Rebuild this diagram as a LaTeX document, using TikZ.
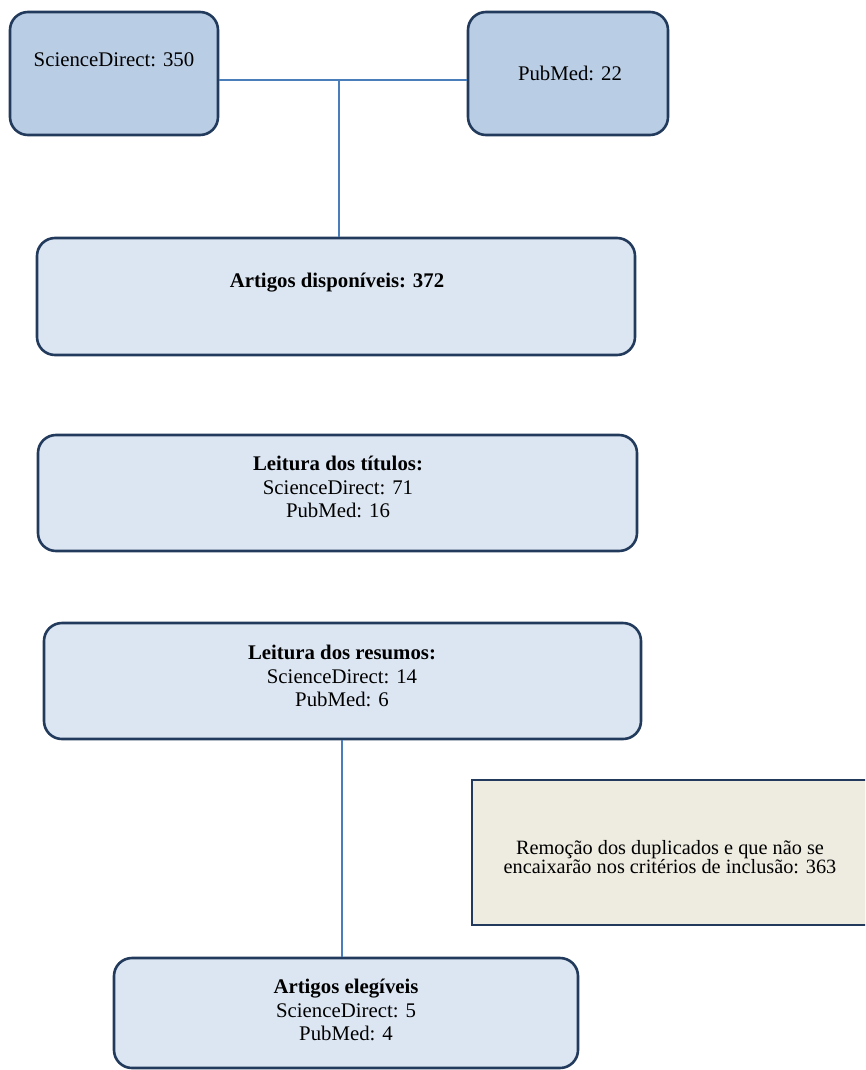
\documentclass[tikz,border=0pt]{standalone}
\usepackage{fontspec}
\setmainfont{Liberation Serif}
\definecolor{darkfill}{HTML}{B9CDE5}
\definecolor{lightfill}{HTML}{DCE6F2}
\definecolor{beigefill}{HTML}{EEECE1}
\definecolor{bordercol}{HTML}{223B5C}
\definecolor{conncol}{HTML}{4A7EBB}
\begin{document}
\begin{tikzpicture}[x=1pt,y=-1pt,
  box/.style={draw=bordercol, line width=2.6pt, rounded corners=18pt, inner sep=0pt},
  darkbox/.style={box, fill=darkfill},
  lightbox/.style={box, fill=lightfill},
  remobox/.style={draw=bordercol, line width=2.6pt, fill=beigefill, inner sep=0pt},
  txt/.style={align=center, inner sep=0pt, font=\fontsize{20.8}{23.5}\selectfont},
  remtxt/.style={align=center, inner sep=0pt, font=\fontsize{20.3}{19.5}\selectfont},
  conn/.style={draw=conncol, line width=1.4pt}]
\useasboundingbox (0,0) rectangle (865,1070);
\clip (0,0) rectangle (865,1070);

% boxes
\node[darkbox, minimum width=208pt, minimum height=123pt] (sd) at (114,73.5) {};
\node[darkbox, minimum width=200pt, minimum height=123pt] (pm) at (568,73.5) {};
\node[lightbox, minimum width=598pt, minimum height=117pt] (art) at (336,296.5) {};
\node[lightbox, minimum width=599pt, minimum height=116pt] (tit) at (337.5,493) {};
\node[lightbox, minimum width=597pt, minimum height=116pt] (res) at (342.5,681) {};
\node[lightbox, minimum width=464pt, minimum height=110pt] (ele) at (346,1013) {};
\node[remobox, minimum width=430pt, minimum height=145pt] (rem) at (687,852.5) {};

% texts
\node[txt] (sdt) at (114,60) {ScienceDirect: 350};
\node[txt] (pmt) at (570,73) {PubMed: 22};
\node[txt] (artt) at (337,283) {\textbf{Artigos disponíveis: 372}};
\node[txt] (titt) at (338,487) {\textbf{Leitura dos títulos:}\\ScienceDirect: 71\\PubMed: 16};
\node[txt] (rest) at (342,676) {\textbf{Leitura dos resumos:}\\ScienceDirect: 14\\PubMed: 6};
\node[txt] (elet) at (346,1010) {\textbf{Artigos elegíveis}\\ScienceDirect: 5\\PubMed: 4};
\node[remtxt] (remt) at (670,857) {Remoção dos duplicados e que não se\\encaixarão nos critérios de inclusão: 363};

% connectors
\coordinate (j) at (339,80);
\draw[conn] (j -| sd.east) -- (j -| pm.west);
\draw[conn] (j) -- (j |- art.north);
\draw[conn] (res.south -| 342,0) -- (ele.north -| 342,0);
\end{tikzpicture}
\end{document}
